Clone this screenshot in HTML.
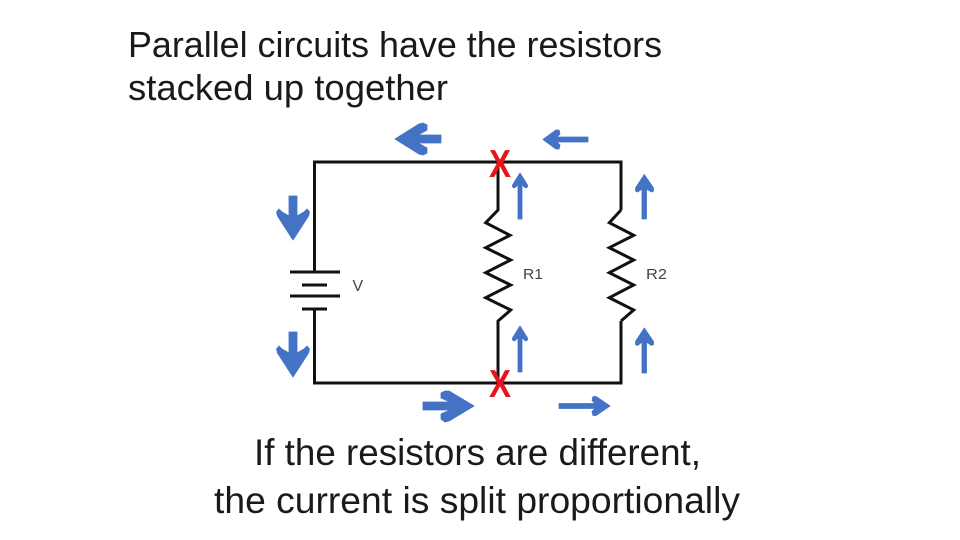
<!DOCTYPE html>
<html><head><meta charset="utf-8"><style>
html,body{margin:0;padding:0;background:#fff}
svg{display:block}
text{font-family:"Liberation Sans",sans-serif}
</style></head><body>
<svg width="960" height="540" viewBox="0 0 960 540" xmlns="http://www.w3.org/2000/svg">
<rect width="960" height="540" fill="#fff"/>
<g fill="#1a1a1a" font-size="36">
<text x="128" y="57" textLength="534" lengthAdjust="spacingAndGlyphs">Parallel circuits have the resistors</text>
<text x="128" y="100" textLength="320" lengthAdjust="spacingAndGlyphs">stacked up together</text>
</g>
<g fill="#1a1a1a" font-size="37">
<text x="254" y="465" textLength="447" lengthAdjust="spacingAndGlyphs">If the resistors are different,</text>
<text x="214" y="513" textLength="526" lengthAdjust="spacingAndGlyphs">the current is split proportionally</text>
</g>
<g fill="none" stroke="#111" stroke-width="3">
<path d="M314.5,272V162H621V210"/>
<path d="M314.5,309V383H621V321"/>
<path d="M498,162V210L485.7,222.7L510,235.3L485.7,247.7L510.7,260L485.7,272.7L510.7,285L485.7,297.7L510.7,310L498,321V383"/>
<path d="M621,210L609.3,222.7L633.7,235.3L609.3,247.7L633.7,260L609.3,272.7L633.7,285L609.3,297.7L633.7,310L621,321"/>
<path d="M290,272H340M302,285H327M290,296H340M302,309H327"/>
</g>
<g fill="#444" font-size="15">
<text x="523" y="279" textLength="20" lengthAdjust="spacingAndGlyphs">R1</text>
<text x="646" y="279" textLength="21" lengthAdjust="spacingAndGlyphs">R2</text>
<text x="352.5" y="291" font-size="16">V</text>
</g>
<g fill="#4472C4" stroke="#4472C4" stroke-width="0.8" stroke-linejoin="round">
<path d="M441,135H418L427,130L427,125L423,123L419,124L395,139L419,154L423,155L427,153L427,148L418,143H441Z"/>
<path d="M423,402H450L441,398L441,393L445,391L449,391L474,406L449,421L445,422L441,419L441,414L450,410H423Z"/>
<path d="M289,196H297V216L304,212L307,209L309.5,212L308.5,216L293,240L277.5,216L276.5,212L279,209L282,212L289,216Z"/>
<path d="M289,332H297V353L304,349L307,346L309.5,349L308.5,353L293,377L277.5,353L276.5,349L279,346L282,349L289,353Z"/>
<path d="M588,137H557L560,134L559,130L556,130L543,139.5L556,149L559,149L560,145L557,142H588Z"/>
<path d="M559,403.5H595L592,400.500L593,396.5L596,396.5L610,406L596,415.5L593,415.5L592,411.5L595,408.5H559Z"/>
<path d="M518,219V185L514.5,188L512.5,187L512.5,185L520,173L527.5,185L527.5,187L525.5,188L522,185V219Z"/>
<path d="M518,372V338L514.5,341L512.5,340L512.5,338L520,326L527.5,338L527.5,340L525.5,341L522,338V372Z"/>
<path d="M642,219V189L637.5,192L635.5,191L635.5,188L644.3,174.5L653.5,188L653.5,191L651.5,192L646.5,189V219Z"/>
<path d="M642,373V342L637.5,345.5L635.5,344.5L635.5,341.5L644.3,328L653.5,341.5L653.5,344.5L651.5,345.5L646.5,342V373Z"/>
</g>
<g fill="#E8141C" font-size="39" font-weight="bold">
<text x="489" y="177" textLength="22" lengthAdjust="spacingAndGlyphs">X</text>
<text x="489" y="397" textLength="22" lengthAdjust="spacingAndGlyphs">X</text>
</g>
</svg>
</body></html>
